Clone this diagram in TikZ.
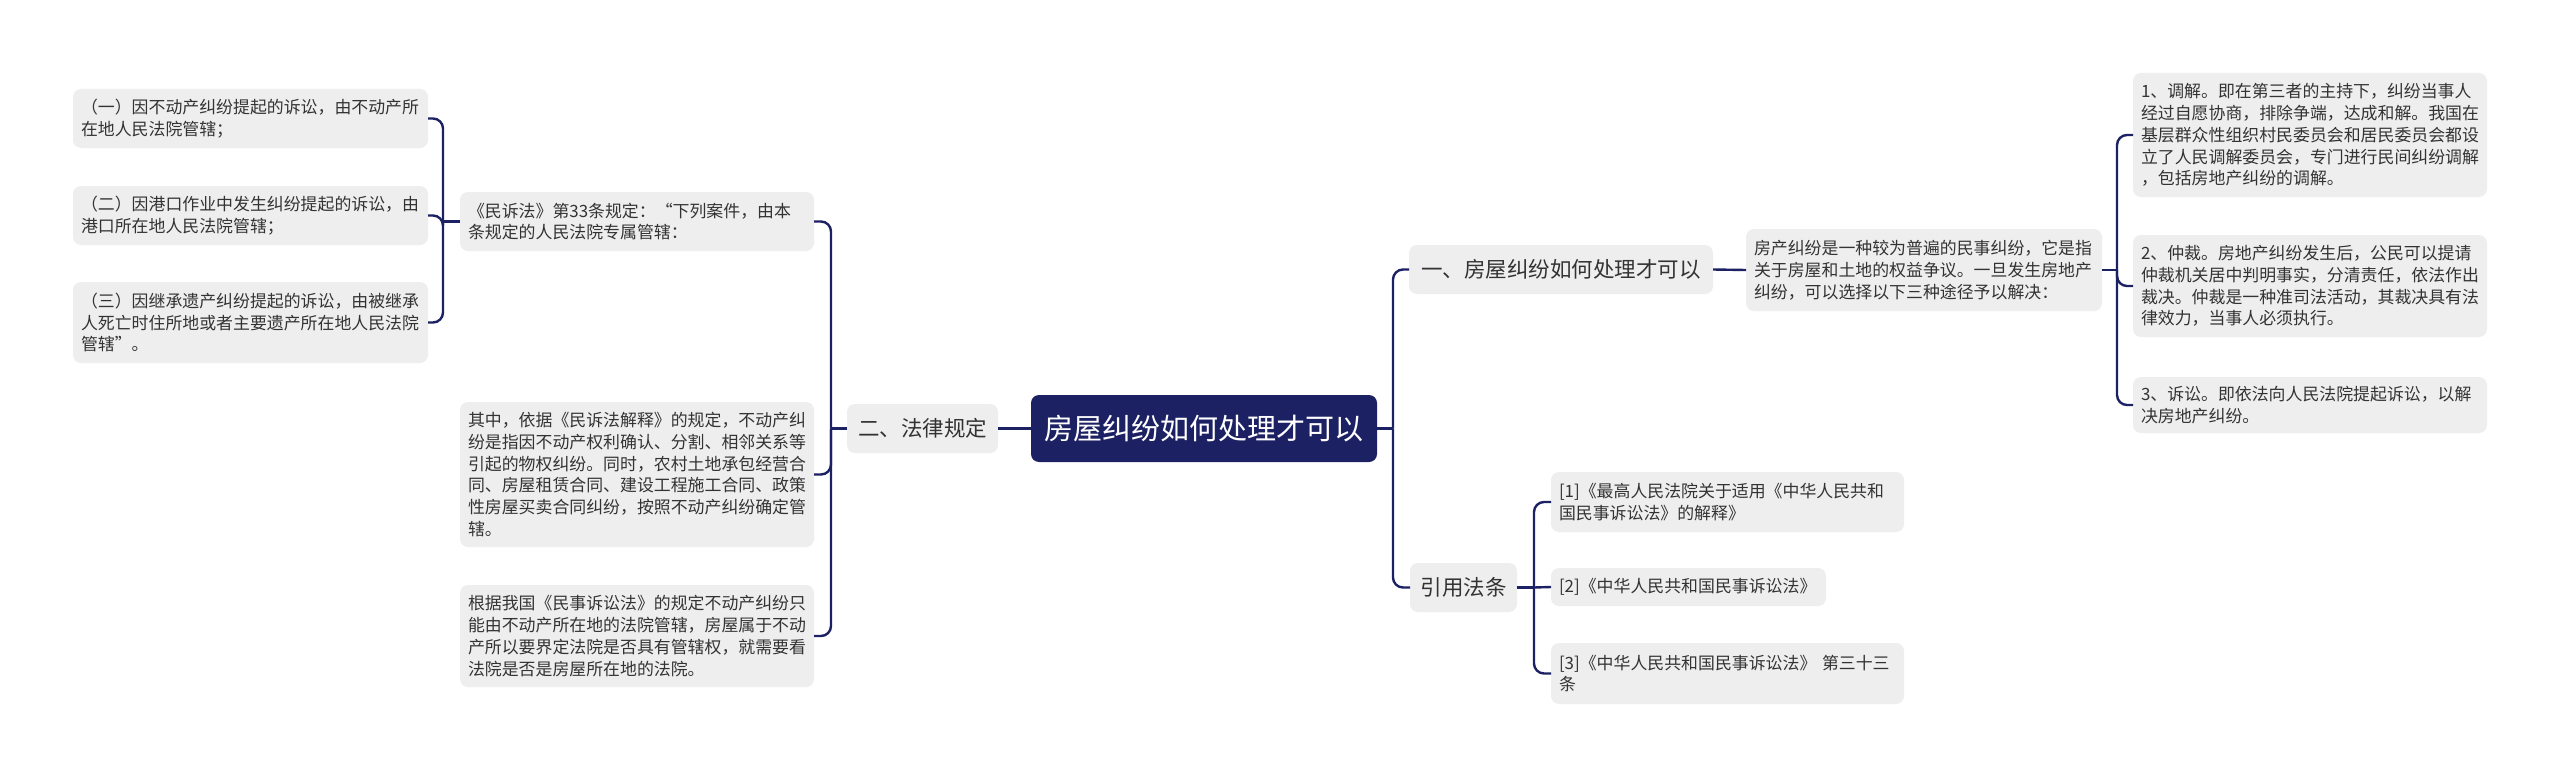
\documentclass[tikz,border=0pt]{standalone}
\usepackage{fontspec}
\setmainfont{Noto Sans CJK SC}
\definecolor{navy}{HTML}{1C2163}
\definecolor{boxgray}{HTML}{EEEEEE}
\definecolor{txt}{HTML}{333333}
\tikzset{
  leaf/.style={fill=boxgray, rounded corners=8pt, inner xsep=8pt, inner ysep=0pt, outer sep=0pt,
    align=left, text=txt, font=\fontsize{16.9}{21.8}\selectfont},
  topic/.style={fill=boxgray, rounded corners=8pt, inner sep=0pt, outer sep=0pt, align=center,
    text=txt, font=\fontsize{21.5}{26}\selectfont},
  rootbox/.style={fill=navy, rounded corners=8pt, inner sep=0pt, outer sep=0pt, align=center,
    text=white, font=\fontsize{29}{34}\selectfont},
  conn/.style={draw=navy, line width=2.4pt, rounded corners=10pt}
}
\begin{document}
\begin{tikzpicture}[x=1pt,y=-1pt]
\fill[white] (0,0) rectangle (2560,776);
\useasboundingbox (0,0) rectangle (2560,776);

% root and main topics
\node[rootbox, minimum width=346pt, minimum height=67pt] (root) at (1204,428.5) {房屋纠纷如何处理才可以};
\node[topic, minimum width=151pt, minimum height=49pt] (n2) at (922.5,428.5) {二、法律规定};
\node[topic, minimum width=304pt, minimum height=49pt] (n1) at (1561,269.5) {一、房屋纠纷如何处理才可以};
\node[topic, minimum width=107pt, minimum height=49pt] (n3) at (1463.5,587.5) {引用法条};

% right side
\node[leaf, text width=340pt, minimum height=82pt] (fc) at (1924,270) {房产纠纷是一种较为普遍的民事纠纷，它是指\\关于房屋和土地的权益争议。一旦发生房地产\\纠纷，可以选择以下三种途径予以解决：};
\node[leaf, text width=338pt, minimum height=124pt] (r1) at (2310,135) {1、调解。即在第三者的主持下，纠纷当事人\\经过自愿协商，排除争端，达成和解。我国在\\基层群众性组织村民委员会和居民委员会都设\\立了人民调解委员会，专门进行民间纠纷调解\\，包括房地产纠纷的调解。};
\node[leaf, text width=338pt, minimum height=102pt] (r2) at (2310,286) {2、仲裁。房地产纠纷发生后，公民可以提请\\仲裁机关居中判明事实，分清责任，依法作出\\裁决。仲裁是一种准司法活动，其裁决具有法\\律效力，当事人必须执行。};
\node[leaf, text width=338pt, minimum height=56pt] (r3) at (2310,405) {3、诉讼。即依法向人民法院提起诉讼，以解\\决房地产纠纷。};

% references
\node[leaf, text width=337pt, minimum height=60pt] (ref1) at (1727.5,502) {[1]《最高人民法院关于适用《中华人民共和\\国民事诉讼法》的解释》};
\node[leaf, text width=259pt, minimum height=38pt] (ref2) at (1688.5,587) {[2]《中华人民共和国民事诉讼法》};
\node[leaf, text width=337pt, minimum height=61pt] (ref3) at (1727.5,673.5) {[3]《中华人民共和国民事诉讼法》 第三十三\\条};

% left side
\node[leaf, text width=338pt, minimum height=59pt] (lA) at (637,221.5) {《民诉法》第33条规定：“下列案件，由本\\条规定的人民法院专属管辖：};
\node[leaf, text width=338pt, minimum height=145pt] (lB) at (637,474.5) {其中，依据《民诉法解释》的规定，不动产纠\\纷是指因不动产权利确认、分割、相邻关系等\\引起的物权纠纷。同时，农村土地承包经营合\\同、房屋租赁合同、建设工程施工合同、政策\\性房屋买卖合同纠纷，按照不动产纠纷确定管\\辖。};
\node[leaf, text width=338pt, minimum height=102pt] (lC) at (637,636) {根据我国《民事诉讼法》的规定不动产纠纷只\\能由不动产所在地的法院管辖，房屋属于不动\\产所以要界定法院是否具有管辖权，就需要看\\法院是否是房屋所在地的法院。};

\node[leaf, text width=339pt, minimum height=59pt] (ll1) at (250.5,118.5) {（一）因不动产纠纷提起的诉讼，由不动产所\\在地人民法院管辖；};
\node[leaf, text width=339pt, minimum height=59pt] (ll2) at (250.5,215.5) {（二）因港口作业中发生纠纷提起的诉讼，由\\港口所在地人民法院管辖；};
\node[leaf, text width=339pt, minimum height=81pt] (ll3) at (250.5,322.5) {（三）因继承遗产纠纷提起的诉讼，由被继承\\人死亡时住所地或者主要遗产所在地人民法院\\管辖”。};

% junction coordinates
\coordinate (jR) at (1393,428.5);
\coordinate (jL) at (831,428.5);
\coordinate (jA) at (443,221.5);
\coordinate (jF) at (2117,270);
\coordinate (j3) at (1534,587.5);

% connectors
\draw[conn] (root.west) -- (n2.east);
\draw[conn] (root.east) -- (jR);
\draw[conn] (jR) |- (n1.west);
\draw[conn] (jR) |- (n3.west);

\draw[conn] (n1.east) -- (fc.west);
\draw[conn] (fc.east) -- (jF);
\draw[conn] (jF) |- (r1.west);
\draw[conn] (jF) |- (r2.west);
\draw[conn] (jF) |- (r3.west);

\draw[conn] (n3.east) -- (j3);
\draw[conn] (j3) |- (ref1.west);
\draw[conn] (j3) -- (ref2.west);
\draw[conn] (j3) |- (ref3.west);

\draw[conn] (n2.west) -- (jL);
\draw[conn] (jL) |- (lA.east);
\draw[conn] (jL) |- (lB.east);
\draw[conn] (jL) |- (lC.east);

\draw[conn] (lA.west) -- (jA);
\draw[conn] (jA) |- (ll1.east);
\draw[conn] (jA) |- (ll2.east);
\draw[conn] (jA) |- (ll3.east);
\end{tikzpicture}
\end{document}
